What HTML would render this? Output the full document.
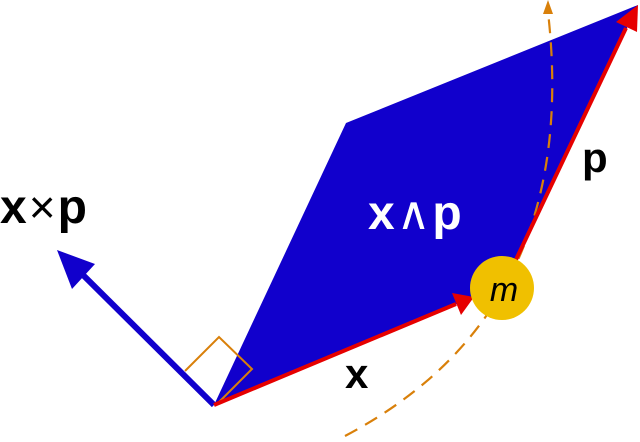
<!DOCTYPE html>
<html><head><style>html,body{margin:0;padding:0;background:#fff;}</style></head>
<body>
<svg width="640" height="437" viewBox="0 0 640 437" xmlns="http://www.w3.org/2000/svg">
<polygon points="214,405 346,123 638,5 512,268 474,297" fill="#1100cc"/>
<line x1="214" y1="405" x2="78" y2="270" stroke="#1100cc" stroke-width="6"/>
<polygon points="57,250 95,264 72,289" fill="#1100cc"/>
<polyline points="185,371 219,337 252,369 218,403" fill="none" stroke="#d9800a" stroke-width="2"/>
<path d="M345,436 C470,370 575,250 548,12" fill="none" stroke="#d9800a" stroke-width="2.2" stroke-dasharray="14,9"/>
<polygon points="548,0 543,14 553,14" fill="#d9800a"/>
<line x1="214" y1="405" x2="456" y2="304" stroke="#e60000" stroke-width="4"/>
<polygon points="474,297 452,293 461,315" fill="#e60000"/>
<line x1="512" y1="268" x2="626" y2="28" stroke="#e60000" stroke-width="4"/>
<polygon points="638,5 616,22 637,32" fill="#e60000"/>
<circle cx="502" cy="288" r="32" fill="#f0c000"/>
<text x="504" y="301" font-family="Liberation Sans, sans-serif" font-style="italic" font-size="34" text-anchor="middle">m</text>
<text x="0" y="223" font-family="Liberation Sans, sans-serif" font-weight="bold" font-size="48">x<tspan dx="2" font-weight="normal" font-size="46">×</tspan><tspan dx="2">p</tspan></text>
<text x="368" y="229" font-family="Liberation Sans, sans-serif" font-weight="bold" font-size="48" fill="#fff">x<tspan dx="2" font-weight="normal" font-size="46">∧</tspan><tspan dx="2">p</tspan></text>
<text x="582" y="172" font-family="Liberation Sans, sans-serif" font-weight="bold" font-size="42">p</text>
<text x="345" y="388" font-family="Liberation Sans, sans-serif" font-weight="bold" font-size="42">x</text>
</svg>
</body></html>
